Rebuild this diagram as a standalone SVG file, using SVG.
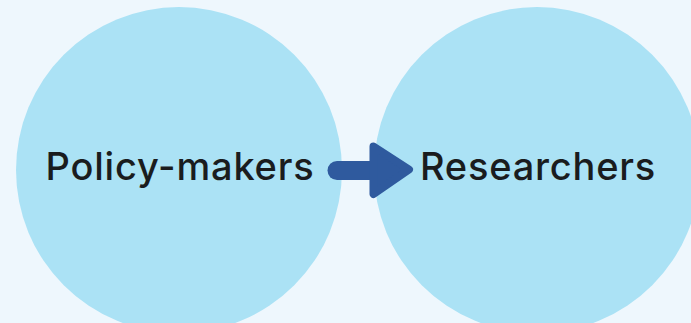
<svg xmlns="http://www.w3.org/2000/svg" width="691" height="323" viewBox="0 0 691 323">
<style>
.node{fill:#abe2f5}
.lbl{font-family:Inter,"Noto Sans",sans-serif;font-size:38px;font-weight:500;fill:#1a1c1e;text-anchor:middle;letter-spacing:0.8px}
.shaft{stroke:#2f5a9e;stroke-width:19;stroke-linecap:round;fill:none}
.head{fill:#2f5a9e;stroke:#2f5a9e;stroke-width:8;stroke-linejoin:round}
</style>
<rect width="691" height="323" fill="#eef7fd"/>
<g id="policy-makers">
<circle class="node" cx="179" cy="170" r="163"/>
<text class="lbl" x="180" y="180">Policy-makers</text>
</g>
<g id="researchers">
<circle class="node" cx="537" cy="170" r="163"/>
<text class="lbl" x="538" y="180">Researchers</text>
</g>
<g id="connectors">
<line class="shaft" x1="337" y1="170.5" x2="380" y2="170.5"/>
<polygon class="head" points="373.5,146.5 409,169.5 373.5,194"/>
</g>
</svg>
